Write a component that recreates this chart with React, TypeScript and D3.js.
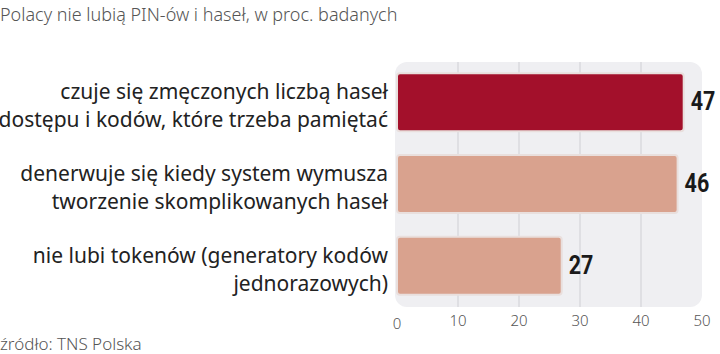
import React from "react";
import * as d3 from "d3";

const categories: string[][] = [
  ["czuje się zmęczonych liczbą haseł", "dostępu i kodów, które trzeba pamiętać"],
  ["denerwuje się kiedy system wymusza", "tworzenie skomplikowanych haseł"],
  ["nie lubi tokenów (generatory kodów", "jednorazowych)"],
];
const values: number[] = [47, 46, 27];
const ticks: number[] = [0, 10, 20, 30, 40, 50];
const title = "Polacy nie lubią PIN-ów i haseł, w proc. badanych";
const source = "źródło: TNS Polska";

export default function App() {
  const W = 720, H = 354;
  const x = d3.scaleLinear().domain([0, 50]).range([397, 702]);
  const y = d3.scaleBand<number>().domain(values.map((_, i) => i)).range([61, 307]).paddingInner(0.29).paddingOuter(0.15);
  const panelTop = 62, panelBottom = 307;
  const font = "'Noto Sans', 'Open Sans', sans-serif";
  return (
    <svg width={W} height={H} style={{ position: "absolute", left: 0, top: 0, background: "#fff" }}>
      <text x={0} y={21} fontFamily={font} fontSize={18} fill="#555" fontWeight={300}>{title}</text>
      <rect x={x(0) - 2} y={panelTop} width={x(50) - x(0) + 2} height={panelBottom - panelTop} rx={12} fill="#efeff2" />
      {ticks.slice(1, -1).map((t) => (
        <line key={t} x1={x(t)} x2={x(t)} y1={panelTop} y2={panelBottom} stroke="#cfcfd4" strokeWidth={1} />
      ))}
      {values.map((v, i) => {
        const by = y(i)!;
        const bh = y.bandwidth();
        const cy = by + bh / 2;
        const lx = x(v) + 7;
        return (
          <g key={i}>
            <rect x={x(0)} y={by} width={x(v) - x(0)} height={bh} rx={3} fill={i === 0 ? "#a3102b" : "#d9a28e"} stroke="#e9dfdd" strokeWidth={2} />
            <text x={0} y={0} transform={`translate(${lx},${cy + 8}) scale(0.86,1)`} fontFamily="'Roboto', sans-serif" fontWeight={700} fontSize={25} fill="#1a1a1a">{v}</text>
            {categories[i].map((line, j) => (
              <text key={j} x={388} y={cy - 3 + j * 28} textAnchor="end" fontFamily={font} fontSize={21} fill="#222">{line}</text>
            ))}
          </g>
        );
      })}
      {ticks.map((t) => (
        <text key={t} x={x(t)} y={t === 0 ? 329 : 326} textAnchor="middle" fontFamily={font} fontSize={15} fill="#555" fontWeight={300}>{t}</text>
      ))}
      <text x={0} y={350} fontFamily={font} fontSize={17} fill="#555" fontWeight={300}>{source}</text>
    </svg>
  );
}
